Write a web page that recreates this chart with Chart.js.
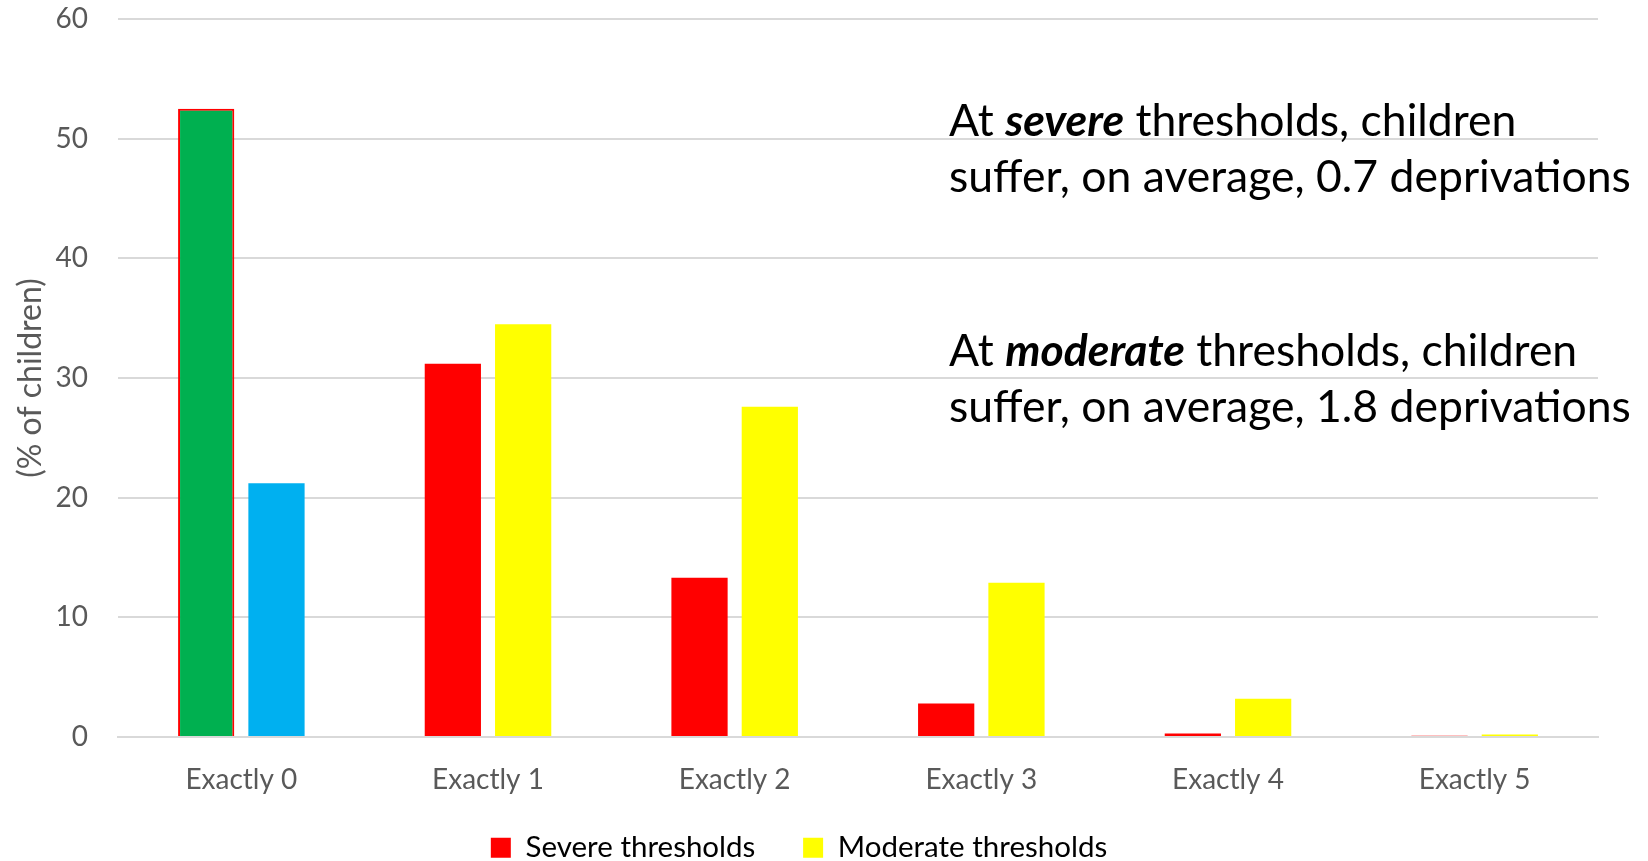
<!DOCTYPE html>
<html>
<head>
<meta charset="utf-8">
<script src="https://cdn.jsdelivr.net/npm/chart.js@4"></script>
<style>
  html, body { margin: 0; padding: 0; background: #fff; }
  #wrap { width: 1648px; height: 861px; }
</style>
</head>
<body>
<div id="wrap"><canvas id="chart" width="1648" height="861"></canvas></div>
<script>
// Share of children by number of deprivations suffered
const categories = ['Exactly 0', 'Exactly 1', 'Exactly 2', 'Exactly 3', 'Exactly 4', 'Exactly 5'];
const severeValues = [52.5, 31.2, 13.3, 2.8, 0.3, 0.1];
const moderateValues = [21.2, 34.5, 27.6, 12.9, 3.2, 0.2];
const severeColors = ['#00B050', '#FF0000', '#FF0000', '#FF0000', '#FF0000', '#FF0000'];
const moderateColors = ['#00B0F0', '#FFFF00', '#FFFF00', '#FFFF00', '#FFFF00', '#FFFF00'];
const yTicks = [0, 10, 20, 30, 40, 50, 60];

const FONT = 'Lato, "Open Sans", sans-serif';
const GREY = '#595959';

// text blocks on the right: [plain, bold-italic, plain] for line 1, then line 2
const notes = [
  { y: 136, line1: ['At ', 'severe', ' thresholds, children'], line2: 'suffer, on average, 0.7 deprivations' },
  { y: 366, line1: ['At ', 'moderate', ' thresholds, children'], line2: 'suffer, on average, 1.8 deprivations' }
];

const notePlugin = {
  id: 'notes',
  afterDraw(chart) {
    const ctx = chart.ctx;
    const size = 44.5;
    const x0 = 949;
    const lineGap = 56;
    ctx.save();
    ctx.fillStyle = '#000';
    ctx.textBaseline = 'alphabetic';
    ctx.textAlign = 'left';
    notes.forEach(n => {
      let x = x0;
      n.line1.forEach((part, i) => {
        ctx.font = (i === 1 ? 'italic bold ' : '') + size + 'px ' + FONT;
        ctx.fillText(part, x, n.y);
        x += ctx.measureText(part).width;
      });
      ctx.font = size + 'px ' + FONT;
      ctx.fillText(n.line2, x0, n.y + lineGap);
    });
    ctx.restore();
  }
};

new Chart(document.getElementById('chart'), {
  type: 'bar',
  data: {
    labels: categories,
    datasets: [
      {
        label: 'Severe thresholds',
        data: severeValues,
        backgroundColor: severeColors,
        borderColor: '#FF0000',
        borderWidth: [2, 0, 0, 0, 0, 0],
        categoryPercentage: 0.57,
        barPercentage: 0.8
      },
      {
        label: 'Moderate thresholds',
        data: moderateValues,
        backgroundColor: moderateColors,
        borderWidth: 0,
        categoryPercentage: 0.57,
        barPercentage: 0.8
      }
    ]
  },
  options: {
    responsive: false,
    animation: false,
    layout: { padding: { top: 19, right: 50, left: 0, bottom: 0 } },
    plugins: {
      tooltip: { enabled: false },
      legend: {
        position: 'bottom',
        maxHeight: 38,
        labels: {
          color: GREY,
          font: { family: FONT, size: 29.5 },
          boxWidth: 20,
          boxHeight: 20,
          padding: 10,
          // trailing spaces widen the gap between the two entries
          generateLabels: () => [
            { text: 'Severe thresholds     ', fillStyle: '#FF0000', strokeStyle: '#FF0000', lineWidth: 0, datasetIndex: 0 },
            { text: 'Moderate thresholds', fillStyle: '#FFFF00', strokeStyle: '#FFFF00', lineWidth: 0, datasetIndex: 1 }
          ]
        }
      }
    },
    scales: {
      x: {
        grid: { display: false, drawTicks: false },
        border: { color: '#D9D9D9', width: 2 },
        ticks: { color: GREY, font: { family: FONT, size: 28 }, padding: 26 },
        afterFit: s => { s.height = 86; }
      },
      y: {
        min: 0,
        max: 60,
        afterBuildTicks: s => { s.ticks = yTicks.map(v => ({ value: v })); },
        grid: { color: '#D9D9D9', lineWidth: 2, drawTicks: false },
        border: { display: false },
        ticks: { color: GREY, font: { family: FONT, size: 28 }, padding: 30 },
        title: {
          display: true,
          text: '(% of children)',
          color: GREY,
          font: { family: FONT, size: 32 },
          padding: { top: 11, bottom: 0 }
        },
        afterFit: s => {
          s.width = 118;
          s.paddingTop = 0;
          s.paddingBottom = 0;
        }
      }
    }
  },
  plugins: [notePlugin]
});
</script>
</body>
</html>
